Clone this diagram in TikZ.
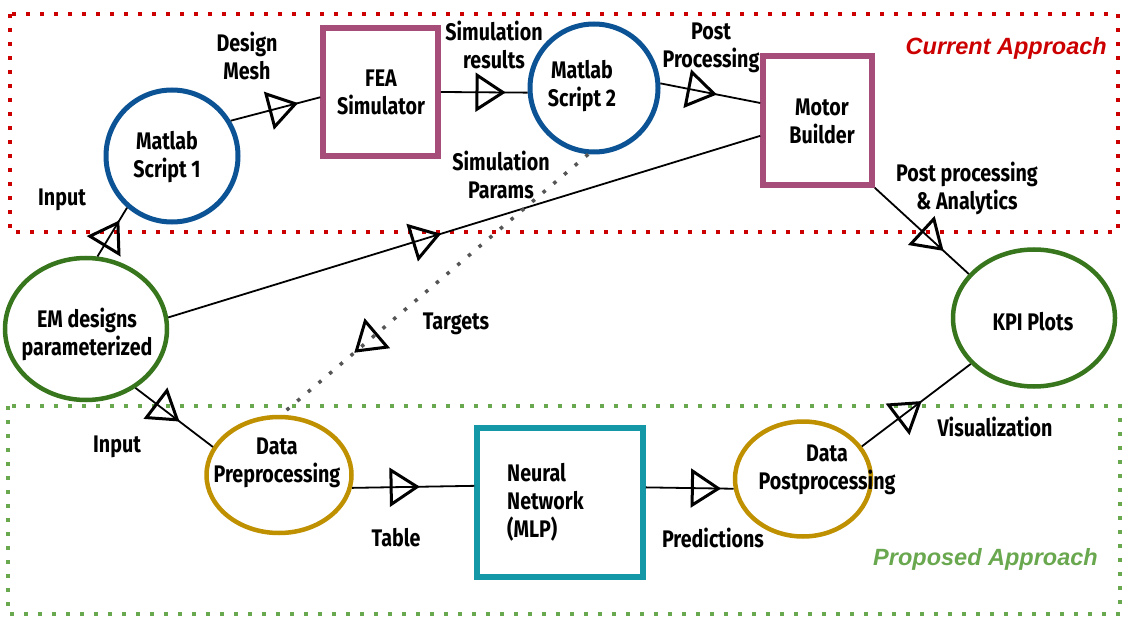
\documentclass[tikz,border=0pt]{standalone}
\usepackage{fontspec}
\setmainfont{Fira Sans}[FakeStretch=0.82]
\newfontfamily\ttlfont{Liberation Sans}
\usetikzlibrary{shapes.geometric,arrows.meta,decorations.markings,calc}
\definecolor{cred}{HTML}{CC0000}
\definecolor{cgreenttl}{HTML}{6AA84F}
\definecolor{cblue}{HTML}{0B5394}
\definecolor{cpink}{HTML}{A64D79}
\definecolor{cgreen}{HTML}{38761D}
\definecolor{cgold}{HTML}{BF9000}
\definecolor{cteal}{HTML}{1497A6}
\definecolor{cgray}{HTML}{555555}
\begin{document}
\begin{tikzpicture}[x=1pt,y=-1pt,
  lbl/.style={font=\fontsize{24}{28}\selectfont\bfseries, align=center, inner sep=0pt},
  ttl/.style={font=\fontsize{23.5}{28}\selectfont\ttlfont\bfseries\itshape, inner sep=0pt, anchor=east},
  circ/.style={circle, draw=cblue, line width=5pt, minimum size=#1, inner sep=0pt},
  box/.style={rectangle, draw=#1, line width=5.5pt, inner sep=0pt},
  ell/.style={ellipse, draw=#1, line width=4.5pt, inner sep=0pt},
  conn/.style={line width=1.8pt, draw=black},
  midtri/.style={postaction={decorate}, decoration={markings, mark=at position #1 with {\draw[black, solid, line width=3pt, line join=miter, fill=none] (4,0) -- (-22,-17) -- (-22,17) -- cycle;}}},
  dotbox/.style={draw=#1, line width=4pt, dash pattern=on 4pt off 10pt}
]
\useasboundingbox (0,0) rectangle (1134,628);

% region boxes
\draw[dotbox=cred] (10,14) rectangle (1118,232);
\draw[dotbox=cgreenttl] (8,406) rectangle (1120,614);
\node[ttl, text=cred] (tcur) at (1107,48) {Current Approach};
\node[ttl, text=cgreenttl] (tprop) at (1098,559) {Proposed Approach};

% shapes
\node[circ=132pt] (m1) at (172,156) {};
\node[box=cpink, minimum width=115pt, minimum height=128pt] (fea) at (380.5,92) {};
\node[circ=128pt] (m2) at (594,88) {};
\node[box=cpink, minimum width=109pt, minimum height=129pt] (motor) at (817.5,120.5) {};
\node[ell=cgreen, minimum width=162pt, minimum height=142pt] (em) at (86,329) {};
\node[ell=cgreen, minimum width=162pt, minimum height=137pt] (kpi) at (1034,318) {};
\node[ell=cgold, minimum width=145pt, minimum height=116pt] (dp) at (279,475) {};
\node[box=cteal, minimum width=166pt, minimum height=149pt] (nn) at (560,502.5) {};
\node[ell=cgold, minimum width=136pt, minimum height=115pt] (dpost) at (803,479) {};

% shape texts
\node[lbl] (tm1) at (167,157) {Matlab\\Script 1};
\node[lbl] (tfea) at (381,92) {FEA\\Simulator};
\node[lbl] (tm2) at (582,86) {Matlab\\Script 2};
\node[lbl] (tmotor) at (822,121) {Motor\\Builder};
\node[lbl] (tem) at (87,334) {EM designs\\parameterized};
\node[lbl] (tkpi) at (1033,322) {KPI Plots};
\node[lbl] (tdp) at (277,463) {Data\\Preprocessing};
\node[lbl, align=left, anchor=west] (tnn) at (507,502) {Neural\\Network\\(MLP)};
\node[lbl] (tdpost) at (827,470) {Data\\Postprocessing};

% connectors
\draw[conn, midtri=0.68] (m1.31) -- (fea.185);
\draw[conn, midtri=0.67] (fea.east) -- (m2.184);
\draw[conn, midtri=0.5] (m2.4) -- (motor.163);
\draw[conn, midtri=0.68] (motor.south east) -- (kpi.146);
\draw[conn, midtri=0.62] (em.81) -- (m1.229);
\draw[conn, midtri=0.45] (em.8) -- (motor.195);
\draw[conn, midtri=0.5] (em.310) -- (dp.157);
\draw[cgray, line width=3.5pt, dash pattern=on 3.5pt off 10.5pt, midtri=0.745] (m2.265) -- (dp.88);
\draw[conn, midtri=0.5] (dp.350) -- (nn.169);
\draw[conn, midtri=0.78] (nn.10) -- (dpost.188);
\draw[conn, midtri=0.5] (dpost.29) -- (kpi.216);

% connector labels
\node[lbl] (ldm) at (247,56) {Design\\Mesh};
\node[lbl] (lsr) at (494,45) {Simulation\\results};
\node[lbl] (lpp) at (711,48) {Post\\Processing};
\node[lbl] (lppa) at (967,188) {Post processing\\\& Analytics};
\node[lbl] (lin1) at (62,200) {Input};
\node[lbl] (lsp) at (501,175) {Simulation\\Params};
\node[lbl] (ltg) at (456,324) {Targets};
\node[lbl] (lin2) at (117,447) {Input};
\node[lbl] (ltab) at (396,538) {Table};
\node[lbl] (lpred) at (713,538) {Predictions};
\node[lbl] (lvis) at (995,427) {Visualization};
\end{tikzpicture}
\end{document}
